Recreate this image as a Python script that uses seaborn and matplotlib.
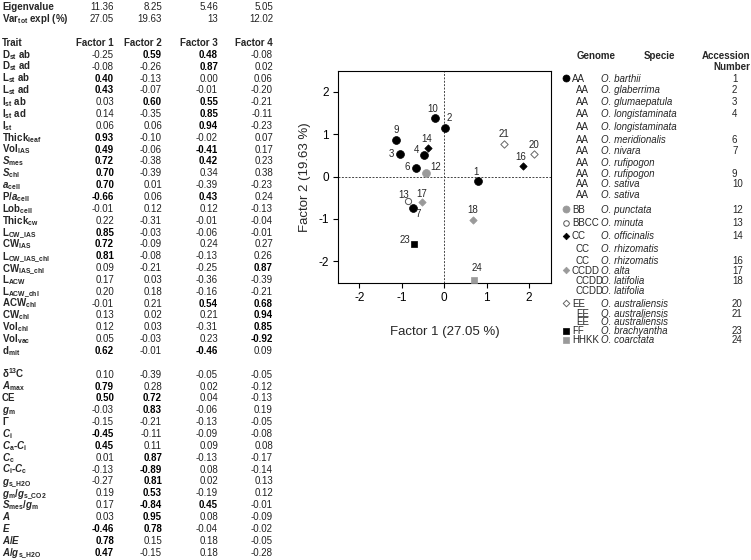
import numpy as np
import pandas as pd
import matplotlib
matplotlib.use("Agg")
import matplotlib.pyplot as plt
import seaborn as sns

# ---------------- data: loadings table ----------------
factor_names = ["Factor 1", "Factor 2", "Factor 3", "Factor 4"]
eigenvalues = ["11.36", "8.25", "5.46", "5.05"]
var_explained = ["27.05", "19.63", "13", "12.02"]

anat_traits = [
    r"$\mathbf{D_{st}\ ab}$", r"$\mathbf{D_{st}\ ad}$", r"$\mathbf{L_{st}\ ab}$",
    r"$\mathbf{L_{st}\ ad}$", r"$\mathbf{I_{st}\ ab}$", r"$\mathbf{I_{st}\ ad}$",
    r"$\mathbf{I_{st}}$", r"$\mathbf{Thick_{leaf}}$", r"$\mathbf{Vol_{IAS}}$",
    r"$\mathbfit{S}_\mathbf{mes}$", r"$\mathbfit{S}_\mathbf{chl}$",
    r"$\mathbfit{a}_\mathbf{cell}$", r"$\mathbf{P/}\mathbfit{a}_\mathbf{cell}$",
    r"$\mathbf{Lob_{cell}}$", r"$\mathbf{Thick_{cw}}$", r"$\mathbf{L_{CW\_IAS}}$",
    r"$\mathbf{CW_{IAS}}$", r"$\mathbf{L_{CW\_IAS\_chl}}$", r"$\mathbf{CW_{IAS\_chl}}$",
    r"$\mathbf{L_{ACW}}$", r"$\mathbf{L_{ACW\_chl}}$", r"$\mathbf{ACW_{chl}}$",
    r"$\mathbf{CW_{chl}}$", r"$\mathbf{Vol_{chl}}$", r"$\mathbf{Vol_{vac}}$",
    r"$\mathbf{d_{mit}}$",
]
anat_f1 = [-0.25, -0.08, 0.40, 0.43, 0.03, 0.14, 0.06, 0.93, 0.49, 0.72, 0.70, 0.70, -0.66,
           -0.01, 0.22, 0.85, 0.72, 0.81, 0.09, 0.17, 0.20, -0.01, 0.13, 0.12, 0.05, 0.62]
anat_f2 = [0.59, -0.26, -0.13, -0.07, 0.60, -0.35, 0.06, -0.10, -0.06, -0.38, -0.39, 0.01, 0.06,
           0.12, -0.31, -0.03, -0.09, -0.08, -0.21, 0.03, 0.18, 0.21, 0.02, 0.03, -0.03, -0.01]
anat_f3 = [0.48, 0.87, 0.00, -0.01, 0.55, 0.85, 0.94, -0.02, -0.41, 0.42, 0.34, -0.39, 0.43,
           0.12, -0.01, -0.06, 0.24, -0.13, -0.25, -0.36, -0.16, 0.54, 0.21, -0.31, 0.23, -0.46]
anat_f4 = [-0.08, 0.02, 0.06, -0.20, -0.21, -0.11, -0.23, 0.07, 0.17, 0.23, 0.38, -0.23, 0.24,
           -0.13, -0.04, -0.01, 0.27, 0.26, 0.87, -0.39, -0.21, 0.68, 0.94, 0.85, -0.92, 0.09]

phys_traits = [
    r"δ$^{\mathbf{13}}$C", r"$\mathbfit{A}_\mathbf{max}$", "CE", r"$\mathbfit{g}_\mathbf{m}$",
    "Γ", r"$\mathbfit{C}_\mathbf{i}$", r"$\mathbfit{C}_\mathbf{a}$-$\mathbfit{C}_\mathbf{i}$",
    r"$\mathbfit{C}_\mathbf{c}$", r"$\mathbfit{C}_\mathbf{i}$-$\mathbfit{C}_\mathbf{c}$",
    r"$\mathbfit{g}_\mathbf{s\_H2O}$", r"$\mathbfit{g}_\mathbf{m}$/$\mathbfit{g}_\mathbf{s\_CO2}$",
    r"$\mathbfit{S}_\mathbf{mes}$/$\mathbfit{g}_\mathbf{m}$", r"$\mathbfit{A}$", r"$\mathbfit{E}$",
    r"$\mathbfit{A}$/$\mathbfit{E}$", r"$\mathbfit{A}$/$\mathbfit{g}_\mathbf{s\_H2O}$",
]
phys_f1 = [0.10, 0.79, 0.50, -0.03, -0.15, -0.45, 0.45, 0.01, -0.13, -0.27, 0.19, 0.17, 0.03,
           -0.46, 0.78, 0.47]
phys_f2 = [-0.39, 0.28, 0.72, 0.83, -0.21, -0.11, 0.11, 0.87, -0.89, 0.81, 0.53, -0.84, 0.95,
           0.78, 0.15, -0.15]
phys_f3 = [-0.05, 0.02, 0.04, -0.06, -0.13, -0.09, 0.09, -0.13, 0.08, 0.02, -0.19, 0.45, 0.08,
           -0.04, 0.18, 0.18]
phys_f4 = [-0.05, -0.12, -0.13, 0.19, -0.05, -0.08, 0.08, -0.17, -0.14, 0.13, 0.12, -0.01, -0.09,
           -0.02, -0.05, -0.28]

# ---------------- data: factor scores ----------------
accession = [1, 2, 3, 4, 6, 7, 9, 10, 12, 13, 14, 16, 17, 18, 20, 21, 23, 24]
genome = ["AA", "AA", "AA", "AA", "AA", "AA", "AA", "AA", "BB", "BBCC", "CC", "CC",
          "CCDD", "CCDD", "EE", "EE", "FF", "HHKK"]
factor1_score = [0.81, 0.02, -1.05, -0.47, -0.66, -0.73, -1.13, -0.22, -0.42, -0.84, -0.37, 1.86,
                 -0.53, 0.68, 2.11, 1.42, -0.72, 0.70]
factor2_score = [-0.10, 1.15, 0.54, 0.50, 0.20, -0.75, 0.86, 1.39, 0.09, -0.57, 0.67, 0.25,
                 -0.59, -1.02, 0.54, 0.77, -1.59, -2.44]

# ---------------- data: accession legend table ----------------
legend_genome = ["AA"] * 11 + ["BB", "BBCC", "CC", "CC", "CC", "CCDD", "CCDD", "CCDD",
                               "EE", "EE", "EE", "FF", "HHKK"]
legend_species = ["O. barthii", "O. glaberrima", "O. glumaepatula", "O. longistaminata",
                  "O. longistaminata", "O. meridionalis", "O. nivara", "O. rufipogon",
                  "O. rufipogon", "O. sativa", "O. sativa", "O. punctata", "O. minuta",
                  "O. officinalis", "O. rhizomatis", "O. rhizomatis", "O. alta", "O. latifolia",
                  "O. latifolia", "O. australiensis", "O. australiensis", "O. australiensis",
                  "O. brachyantha", "O. coarctata"]
legend_accession = ["1", "2", "3", "4", "", "6", "7", "", "9", "10", "", "12", "13", "14", "",
                    "16", "17", "18", "", "20", "21", "", "23", "24"]

# ---------------- styles / layout ----------------
GRAY = "#9a9a9a"
genome_style = {
    "AA":   dict(marker="o", face="black", edge="black", s=32, lw=0.5),
    "BB":   dict(marker="o", face=GRAY, edge=GRAY, s=32, lw=0.5),
    "BBCC": dict(marker="o", face="white", edge="#555555", s=20, lw=0.7),
    "CC":   dict(marker="D", face="black", edge="black", s=14, lw=0.5),
    "CCDD": dict(marker="D", face=GRAY, edge=GRAY, s=14, lw=0.5),
    "EE":   dict(marker="D", face="white", edge="#666666", s=14, lw=0.7),
    "FF":   dict(marker="s", face="black", edge="black", s=17, lw=0.5),
    "HHKK": dict(marker="s", face=GRAY, edge=GRAY, s=17, lw=0.5),
}
label_offset_px = {1: (-2, 9), 2: (4, 10), 3: (-8, 0), 4: (-8, 5), 6: (-9, 1), 7: (5, -6),
                   9: (0, 10), 10: (-2, 9), 12: (9, 6), 13: (-5, 6), 14: (-2, 9), 16: (-2, 9),
                   17: (0, 8), 18: (0, 10), 20: (0, 9), 21: (0, 10), 23: (-9, 4), 24: (3, 12)}

sns.set_theme(style="white")
plt.rcParams["font.family"] = ["Liberation Sans", "DejaVu Sans"]
plt.rcParams["mathtext.fontset"] = "custom"
plt.rcParams["mathtext.rm"] = "Liberation Sans"
plt.rcParams["mathtext.it"] = "Liberation Sans:italic"
plt.rcParams["mathtext.bf"] = "Liberation Sans:bold"
plt.rcParams["mathtext.bfit"] = "Liberation Sans:italic:bold"
plt.rcParams["axes.unicode_minus"] = False

W, H = 751, 560
fig = plt.figure(figsize=(W / 100, H / 100), dpi=100)

# overlay axes in pixel coordinates for the tables
ov = fig.add_axes([0, 0, 1, 1])
ov.set_xlim(0, W)
ov.set_ylim(H, 0)
ov.axis("off")

FS = 7
row0 = 6.8
dy = 11.85
base = 3.6  # baseline offset from row center
col_x = [114, 162, 218, 273]

def row_y(i):
    return row0 + i * dy + base

ov.text(2, row_y(0), "Eigenvalue", fontsize=FS, fontweight="bold")
ov.text(2, row_y(1), r"Var$_\mathbf{tot}$ expl (%)", fontsize=FS, fontweight="bold")
for c, (ev, ve) in enumerate(zip(eigenvalues, var_explained)):
    ov.text(col_x[c], row_y(0), ev, fontsize=FS, ha="right", color="#222222")
    ov.text(col_x[c], row_y(1), ve, fontsize=FS, ha="right", color="#222222")

ov.text(2, row_y(3), "Trait", fontsize=FS, fontweight="bold")
for c, name in enumerate(factor_names):
    ov.text(col_x[c], row_y(3), name, fontsize=FS, ha="right", fontweight="bold")

def draw_block(labels, cols, start):
    for r, lab in enumerate(labels):
        y = row_y(start + r)
        ov.text(2, y, lab, fontsize=FS, fontweight="bold")
        for c in range(4):
            v = cols[c][r]
            bold = abs(v) >= 0.395
            ov.text(col_x[c], y, f"{v:.2f}", fontsize=FS, ha="right",
                    fontweight="bold" if bold else "normal",
                    color="black" if bold else "#222222")

draw_block(anat_traits, [anat_f1, anat_f2, anat_f3, anat_f4], 4)
draw_block(phys_traits, [phys_f1, phys_f2, phys_f3, phys_f4], 4 + len(anat_traits) + 1)

# ---------------- legend table ----------------
leg_rows = [78.3, 89.5, 101, 113, 126.5, 139, 150.5, 162, 173.5, 183.5, 194, 209, 222.5,
            235.5, 248, 260, 270, 280, 290, 303, 313, 321.7, 330.6, 339.5]
ov.text(596, 55 + base, "Genome", fontsize=FS, fontweight="bold", ha="center")
ov.text(659, 55 + base, "Specie", fontsize=FS, fontweight="bold", ha="center")
ov.text(750, 55 + base, "Accession", fontsize=FS, fontweight="bold", ha="right")
ov.text(750, 66 + base, "Number", fontsize=FS, fontweight="bold", ha="right")
seen = set()
for i, (g, sp, acc) in enumerate(zip(legend_genome, legend_species, legend_accession)):
    y = leg_rows[i]
    if g not in seen:
        seen.add(g)
        st = genome_style[g]
        ov.scatter([566], [y], marker=st["marker"], s=st["s"] * 0.8, facecolor=st["face"],
                   edgecolor=st["edge"], linewidths=st["lw"])
        gx = 572
    else:
        gx = 576
    ov.text(gx, y + base, g, fontsize=FS)
    ov.text(601, y + base, sp, fontsize=FS, style="italic")
    ov.text(732, y + base, acc, fontsize=FS)

# ---------------- scatter plot ----------------
scores = pd.DataFrame({"accession": accession, "genome": genome,
                       "Factor 1": factor1_score, "Factor 2": factor2_score})

ax = fig.add_axes([338 / W, 1 - 283 / H, 213 / W, 212 / H])
ax.axhline(0, color="#444444", lw=0.7, ls=(0, (2, 1.5)), zorder=1)
ax.axvline(0, color="#444444", lw=0.7, ls=(0, (2, 1.5)), zorder=1)
for g, sub in scores.groupby("genome", sort=False):
    st = genome_style[g]
    sns.scatterplot(data=sub, x="Factor 1", y="Factor 2", marker=st["marker"], s=st["s"],
                    color=st["face"], edgecolor=st["edge"], linewidth=st["lw"], ax=ax,
                    legend=False, zorder=3)
for _, r in scores.iterrows():
    dx, dyy = label_offset_px[r["accession"]]
    ax.annotate(str(r["accession"]), (r["Factor 1"], r["Factor 2"]), xytext=(dx, dyy),
                textcoords="offset pixels", ha="center", va="center", fontsize=7, zorder=4)

ax.set_xlim(-2.5, 2.52)
ax.set_ylim(-2.51, 2.49)
ax.set_xticks([-2, -1, 0, 1, 2])
ax.set_yticks([-2, -1, 0, 1, 2])
ax.tick_params(direction="out", length=3.5, width=0.8, labelsize=8.5, colors="black",
               bottom=True, left=True, pad=3)
for sp in ax.spines.values():
    sp.set_color("black")
    sp.set_linewidth(0.8)
ax.set_xlabel("Factor 1 (27.05 %)", fontsize=9.5)
ax.set_ylabel("Factor 2 (19.63 %)", fontsize=9.5)
ax.xaxis.set_label_coords(0.5, (283 - 332) / 212)
ax.xaxis.label.set_va("center")
ax.yaxis.set_label_coords((305 - 338) / 213, 0.5)
ax.yaxis.label.set_va("center")

fig.savefig("out.png", dpi=100)
